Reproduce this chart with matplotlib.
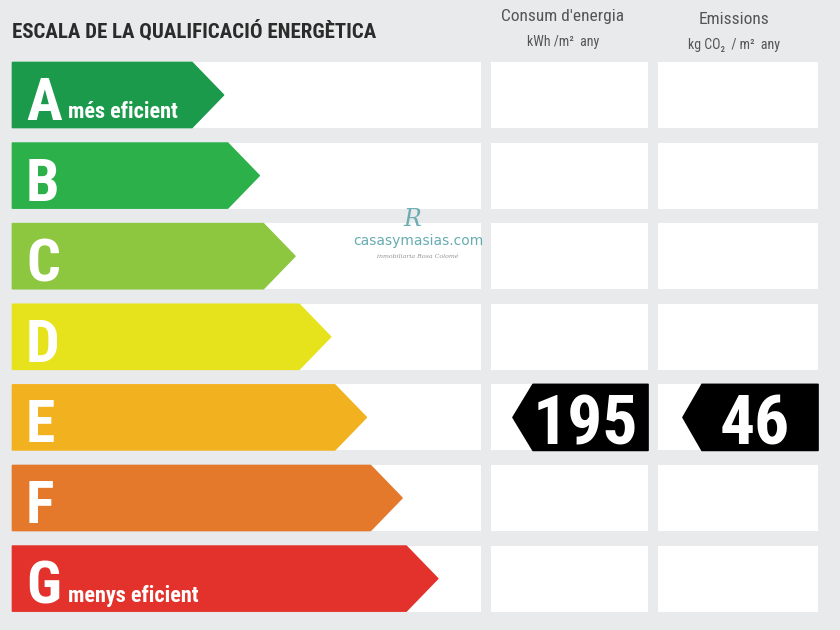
import matplotlib.pyplot as plt
from matplotlib.patches import Polygon, Rectangle

# energy rating data
grades = ['A', 'B', 'C', 'D', 'E', 'F', 'G']
grade_notes = ['més eficient', '', '', '', '', '', 'menys eficient']
grade_colors = ['#1b9a4b', '#2bb04a', '#8dc63f', '#e6e21c', '#f2b11f', '#e4792b', '#e2322b']
consum_grade = 'E'
consum_value = 195
emissions_grade = 'E'
emissions_value = 46

FONT = ['Roboto Condensed', 'DejaVu Sans']
BG = '#e8eaeb'

fig = plt.figure(figsize=(8.4, 6.3), dpi=100)
fig.patch.set_facecolor(BG)
ax = fig.add_axes([0, 0, 1, 1])
ax.set_xlim(0, 840)
ax.set_ylim(630, 0)
ax.axis('off')

row_top, row_pitch, row_h = 62, 80.6, 66


def black_tag(x_tip, x_body, x_right, top, value):
    pts = [(x_tip, top + row_h / 2), (x_body, top), (x_right, top),
           (x_right, top + row_h), (x_body, top + row_h)]
    ax.add_patch(Polygon(pts, closed=True, facecolor='black', edgecolor='black',
                         linewidth=1.2, joinstyle='round'))
    ax.text((x_body + x_right) / 2 - 5, top + 60, str(value), color='white',
            fontsize=50, fontweight='bold', family=FONT, ha='center', va='baseline')


for i, (g, note, col) in enumerate(zip(grades, grade_notes, grade_colors)):
    top = row_top + i * row_pitch
    # white boxes
    ax.add_patch(Rectangle((12, top), 469, row_h, facecolor='white', edgecolor='none'))
    ax.add_patch(Rectangle((491, top), 157, row_h, facecolor='white', edgecolor='none'))
    ax.add_patch(Rectangle((658, top), 160, row_h, facecolor='white', edgecolor='none'))
    # coloured arrow
    tip = 224 + i * 35.7
    body = tip - 32
    pts = [(12.5, top + 0.5), (body, top + 0.5), (tip - 0.5, top + row_h / 2),
           (body, top + row_h - 0.5), (12.5, top + row_h - 0.5)]
    ax.add_patch(Polygon(pts, closed=True, facecolor=col, edgecolor=col,
                         linewidth=1.2, joinstyle='round'))
    ax.text(26, top + 58, g, color='white', fontsize=43, fontweight='bold',
            family=FONT, ha='left', va='baseline')
    if note:
        ax.text(68, top + 56, note, color='white', fontsize=16, fontweight='bold',
                family=FONT, ha='left', va='baseline')
    if g == consum_grade:
        black_tag(513, 533, 648, top, consum_value)
    if g == emissions_grade:
        black_tag(683, 702, 818, top, emissions_value)

# header texts
ax.text(12, 38, 'ESCALA DE LA QUALIFICACIÓ ENERGÈTICA', color='#2b2b2b', fontsize=15,
        fontweight='bold', family=FONT, ha='left', va='baseline')
ax.text(563, 21, "Consum d'energia", color='#555555', fontsize=12.5, family=FONT,
        ha='center', va='baseline')
ax.text(563, 46, 'kWh /m²  any', color='#555555', fontsize=10, family=FONT,
        ha='center', va='baseline')
ax.text(734, 24, 'Emissions', color='#555555', fontsize=12.5, family=FONT,
        ha='center', va='baseline')
ax.text(734, 49, 'kg CO₂  / m²  any', color='#555555', fontsize=10, family=FONT,
        ha='center', va='baseline')

# watermark
ax.text(412, 220, 'R', color='#4d9ea3', fontsize=17, style='italic', family='DejaVu Serif',
        ha='center', va='center', alpha=0.8)
ax.text(418, 241, 'casasymasias.com', color='#4d9ea3', fontsize=10, family='DejaVu Sans',
        ha='center', va='center', alpha=0.85)
ax.text(418, 257, 'inmobiliaria Rosa Colomé', color='#666666', fontsize=4.5, style='italic',
        family='DejaVu Serif', ha='center', va='center', alpha=0.7)

fig.savefig('out.png', dpi=100, facecolor=BG)
